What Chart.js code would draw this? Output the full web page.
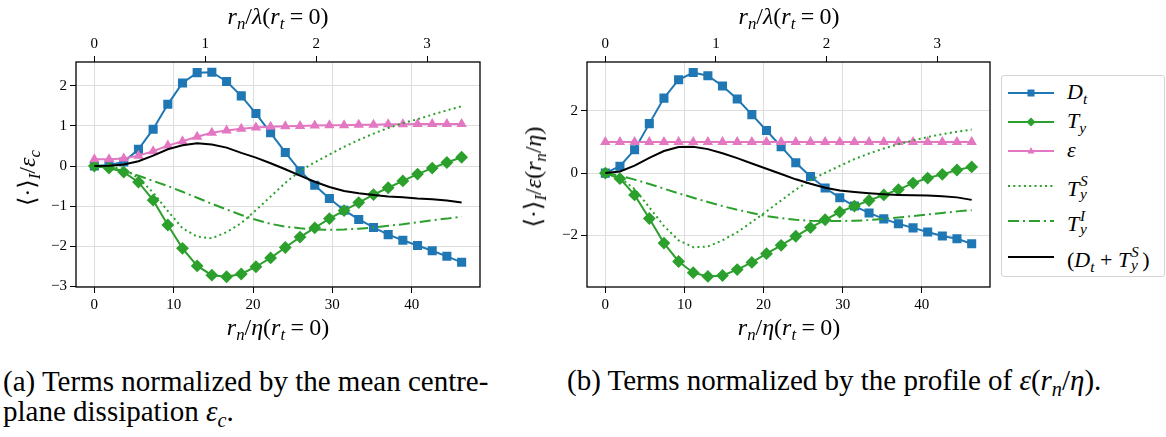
<!DOCTYPE html>
<html lang="en">
<head>
<meta charset="UTF-8">
<title>Terms normalized</title>
<script src="https://cdn.jsdelivr.net/npm/chart.js"></script>
<style>
  body { margin: 0; background: #fff; width: 1166px; height: 437px; position: relative; overflow: hidden; font-family: "Times New Roman", "Liberation Serif", "DejaVu Serif", serif; color: #000; }
  canvas { position: absolute; top: 0; }
  #chartA { left: 0; }
  #chartB { left: 510px; }
  .lbl { position: absolute; font-size: 24px; white-space: nowrap; line-height: 1; transform: translate(-50%, -50%); }
  .rot { transform: translate(-50%, -50%) rotate(-90deg); }
  .eq { margin: 0 0.22em; }
  i { font-style: italic; }
  sub { font-size: 0.7em; line-height: 0; vertical-align: -0.3em; }
  #legend { position: absolute; left: 1001px; top: 75px; width: 162px; height: 200px; border: 1px solid #d4d4d4; border-radius: 3px; background: #fff; }
  .row { position: absolute; left: 0; height: 30px; width: 160px; transform: translateY(-50%); }
  .row svg { position: absolute; left: 6px; top: 7px; }
  .row .t { position: absolute; left: 65px; top: 3px; font-size: 22px; line-height: 1; font-style: italic; white-space: nowrap; }
  .ss { display: inline-block; position: relative; width: 0.55em; height: 1em; }
  .ss span { position: absolute; left: 0.05em; font-size: 0.7em; line-height: 1; }
  .ss .sp { top: -0.05em; }
  .ss .sb { top: 0.75em; }
  .cap { position: absolute; font-size: 29px; line-height: 29px; white-space: nowrap; }
</style>
</head>
<body>

<canvas id="chartA" width="500" height="320"></canvas>
<canvas id="chartB" width="500" height="320"></canvas>

<div class="lbl" style="left:278px; top:16px;"><i>r</i><sub><i>n</i></sub>/<i>λ</i>(<i>r</i><sub><i>t</i></sub><span class="eq">=</span>0)</div>
<div class="lbl" style="left:278px; top:327px;"><i>r</i><sub><i>n</i></sub>/<i>η</i>(<i>r</i><sub><i>t</i></sub><span class="eq">=</span>0)</div>
<div class="lbl rot" style="left:27px; top:178px;">⟨·⟩<sub><i>I</i></sub>/<i>ε</i><sub><i>c</i></sub></div>

<div class="lbl" style="left:789px; top:16px;"><i>r</i><sub><i>n</i></sub>/<i>λ</i>(<i>r</i><sub><i>t</i></sub><span class="eq">=</span>0)</div>
<div class="lbl" style="left:789px; top:327px;"><i>r</i><sub><i>n</i></sub>/<i>η</i>(<i>r</i><sub><i>t</i></sub><span class="eq">=</span>0)</div>
<div class="lbl rot" style="left:533px; top:177px;">⟨·⟩<sub><i>I</i></sub>/<i>ε</i>(<i>r</i><sub><i>n</i></sub>/<i>η</i>)</div>

<div id="legend"></div>

<div class="cap" style="left:3px; top:367px;">(a) Terms normalized by the mean centre-</div>
<div class="cap" style="left:3px; top:397px;">plane dissipation <i>ε</i><sub><i>c</i></sub>.</div>
<div class="cap" style="left:567px; top:366px;">(b) Terms normalized by the profile of <i>ε</i>(<i>r</i><sub><i>n</i></sub>/<i>η</i>).</div>

<script>
  // r_n / eta at each sample
  const xValues = [0, 1.85, 3.70, 5.56, 7.41, 9.26, 11.11, 12.96, 14.81, 16.67, 18.52, 20.37, 22.22,
    24.07, 25.93, 27.78, 29.63, 31.48, 33.33, 35.19, 37.04, 38.89, 40.74, 42.59, 44.44, 46.30];
  const lambdaOverEta = 13.98;

  // (a) normalized by eps_c
  const dtA = [0, 0.03, 0.10, 0.42, 0.92, 1.54, 2.07, 2.33, 2.34, 2.11, 1.75, 1.31, 0.83, 0.34, -0.12,
    -0.48, -0.81, -1.10, -1.33, -1.53, -1.71, -1.85, -1.98, -2.11, -2.25, -2.40];
  const tyA = [0, -0.05, -0.15, -0.40, -0.85, -1.47, -2.05, -2.49, -2.72, -2.76, -2.69, -2.51, -2.29,
    -2.03, -1.77, -1.54, -1.31, -1.11, -0.91, -0.71, -0.54, -0.37, -0.20, -0.05, 0.09, 0.22];
  const epsA = [0.17, 0.17, 0.19, 0.26, 0.37, 0.51, 0.62, 0.73, 0.83, 0.89, 0.93, 0.96, 0.98, 0.99, 1.00,
    1.01, 1.02, 1.02, 1.03, 1.03, 1.04, 1.04, 1.05, 1.05, 1.05, 1.05];
  const tsA = [0, -0.02, -0.06, -0.30, -0.66, -1.12, -1.55, -1.76, -1.80, -1.65, -1.42, -1.10, -0.76,
    -0.42, -0.12, 0.09, 0.29, 0.48, 0.65, 0.81, 0.95, 1.07, 1.17, 1.28, 1.39, 1.49];
  const tiA = [0, -0.04, -0.12, -0.24, -0.37, -0.50, -0.64, -0.79, -0.94, -1.08, -1.22, -1.34, -1.44,
    -1.51, -1.55, -1.58, -1.59, -1.58, -1.56, -1.53, -1.49, -1.45, -1.40, -1.35, -1.31, -1.26];
  const sumA = [0, 0.01, 0.04, 0.12, 0.26, 0.42, 0.52, 0.57, 0.54, 0.46, 0.33, 0.21, 0.07, -0.08, -0.24,
    -0.39, -0.52, -0.62, -0.68, -0.72, -0.76, -0.78, -0.81, -0.83, -0.86, -0.91];

  // (b) normalized by eps(r_n/eta)
  const dtB = [0, 0.22, 0.75, 1.59, 2.41, 3.00, 3.23, 3.13, 2.80, 2.38, 1.88, 1.37, 0.85, 0.33, -0.11,
    -0.48, -0.79, -1.06, -1.28, -1.47, -1.63, -1.76, -1.89, -2.02, -2.11, -2.27];
  const tyB = [0, -0.18, -0.70, -1.46, -2.25, -2.84, -3.20, -3.32, -3.29, -3.10, -2.87, -2.59, -2.32,
    -2.03, -1.75, -1.50, -1.25, -1.06, -0.88, -0.70, -0.53, -0.32, -0.16, -0.04, 0.10, 0.20];
  const epsB = [1, 1, 1, 1, 1, 1, 1, 1, 1, 1, 1, 1, 1, 1, 1, 1, 1, 1, 1, 1, 1, 1, 1, 1, 1, 1];
  const tsB = [0, -0.15, -0.51, -1.10, -1.70, -2.16, -2.38, -2.36, -2.16, -1.90, -1.57, -1.23, -0.88,
    -0.53, -0.23, 0.01, 0.23, 0.45, 0.63, 0.79, 0.93, 1.05, 1.16, 1.25, 1.33, 1.40];
  const tiB = [0, -0.08, -0.21, -0.35, -0.50, -0.65, -0.79, -0.93, -1.06, -1.18, -1.28, -1.38, -1.45,
    -1.50, -1.53, -1.54, -1.54, -1.53, -1.51, -1.47, -1.43, -1.38, -1.33, -1.28, -1.23, -1.19];
  const sumB = [0, 0.05, 0.24, 0.49, 0.71, 0.84, 0.85, 0.77, 0.64, 0.48, 0.31, 0.14, -0.03, -0.20, -0.34,
    -0.47, -0.56, -0.61, -0.65, -0.68, -0.70, -0.71, -0.72, -0.74, -0.78, -0.86];

  const BLUE = '#1f77b4', GREEN = '#2ca02c', PINK = '#e377c2';
  const tickFont = { family: '"Times New Roman", "Liberation Serif", "DejaVu Serif", serif', size: 15 };
  const fmt = v => String(v).replace('-', '\u2212');

  const frame = {
    id: 'frame',
    afterDraw(chart) {
      const { ctx, chartArea: a } = chart;
      ctx.save();
      ctx.strokeStyle = '#000';
      ctx.lineWidth = 1.3;
      ctx.strokeRect(a.left, a.top, a.right - a.left, a.bottom - a.top);
      ctx.restore();
    }
  };

  function line(label, ys, color, order, extra) {
    return Object.assign({
      label: label,
      data: xValues.map((x, i) => ({ x: x, y: ys[i] })),
      borderColor: color,
      backgroundColor: color,
      borderWidth: 2,
      pointRadius: 0,
      tension: 0,
      fill: false,
      order: order
    }, extra);
  }

  function makeChart(id, s, yMin, yMax, yStep, yWidth) {
    const grid = { color: '#dedede', lineWidth: 1, tickColor: '#000', tickLength: 6, tickWidth: 1 };
    new Chart(document.getElementById(id), {
      type: 'line',
      data: {
        datasets: [
          line('D_t', s[0], BLUE, 6, { pointStyle: 'rect', pointRadius: 5 }),
          line('T_y', s[1], GREEN, 5, { pointStyle: 'rectRot', pointRadius: 5 }),
          line('eps', s[2], PINK, 4, { pointStyle: 'triangle', pointRadius: 4 }),
          line('T_y^S', s[3], GREEN, 3, { borderDash: [2, 3.3] }),
          line('T_y^I', s[4], GREEN, 2, { borderDash: [11, 4, 2, 4] }),
          line('D_t + T_y^S', s[5], '#000', 1)
        ]
      },
      options: {
        responsive: false,
        animation: false,
        layout: { padding: { left: 0, right: 20, top: 0, bottom: 0 } },
        plugins: { legend: { display: false }, tooltip: { enabled: false } },
        scales: {
          x: {
            type: 'linear', position: 'bottom', min: -2.315, max: 48.615,
            ticks: { stepSize: 10, includeBounds: false, font: tickFont, color: '#000', padding: 3, maxRotation: 0, callback: fmt },
            grid: grid,
            border: { display: false },
            afterFit(sc) { sc.height = 33; }
          },
          x2: {
            type: 'linear', position: 'top', min: -2.315 / lambdaOverEta, max: 48.615 / lambdaOverEta,
            ticks: { stepSize: 1, includeBounds: false, font: tickFont, color: '#000', padding: 3, maxRotation: 0, callback: fmt },
            grid: { drawOnChartArea: false, tickColor: '#000', tickLength: 6, tickWidth: 1 },
            border: { display: false },
            afterFit(sc) { sc.height = 62; }
          },
          y: {
            min: yMin, max: yMax,
            ticks: { stepSize: yStep, includeBounds: false, font: tickFont, color: '#000', padding: 3, callback: fmt },
            grid: grid,
            border: { display: false },
            afterFit(sc) { sc.width = yWidth; }
          }
        }
      },
      plugins: [frame]
    });
  }

  makeChart('chartA', [dtA, tyA, epsA, tsA, tiA, sumA], -3.015, 2.595, 1, 76);
  makeChart('chartB', [dtB, tyB, epsB, tsB, tiB, sumB], -3.66, 3.57, 2, 77);

  // legend
  const legendRows = [
    { y: 17, html: 'D<sub>t</sub>', color: BLUE, marker: 'square' },
    { y: 46, html: 'T<sub>y</sub>', color: GREEN, marker: 'diamond' },
    { y: 75, html: 'ε', color: PINK, marker: 'triangle' },
    { y: 110, html: 'T<span class="ss"><span class="sp">S</span><span class="sb">y</span></span>', color: GREEN, dash: '2 3.3' },
    { y: 145, html: 'T<span class="ss"><span class="sp">I</span><span class="sb">y</span></span>', color: GREEN, dash: '11 4 2 4' },
    { y: 181, html: '<span style="font-style:normal">(</span>D<sub>t</sub> <span style="font-style:normal">+</span> T<span class="ss"><span class="sp">S</span><span class="sb">y</span></span><span style="font-style:normal">)</span>', color: '#000' }
  ];
  const legend = document.getElementById('legend');
  legendRows.forEach(r => {
    let mk = '';
    if (r.marker === 'square') mk = `<rect x="19.5" y="4.5" width="7" height="7" fill="${r.color}"/>`;
    if (r.marker === 'diamond') mk = `<polygon points="23,3.5 27.5,8 23,12.5 18.5,8" fill="${r.color}"/>`;
    if (r.marker === 'triangle') mk = `<polygon points="23,4 26.5,10.5 19.5,10.5" fill="${r.color}"/>`;
    const dash = r.dash ? ` stroke-dasharray="${r.dash}"` : '';
    const div = document.createElement('div');
    div.className = 'row';
    div.style.top = r.y + 'px';
    div.innerHTML = `<svg width="46" height="16"><line x1="0" y1="8" x2="46" y2="8" stroke="${r.color}" stroke-width="2"${dash}/>${mk}</svg>` +
      `<span class="t">${r.html}</span>`;
    legend.appendChild(div);
  });
</script>

</body>
</html>
